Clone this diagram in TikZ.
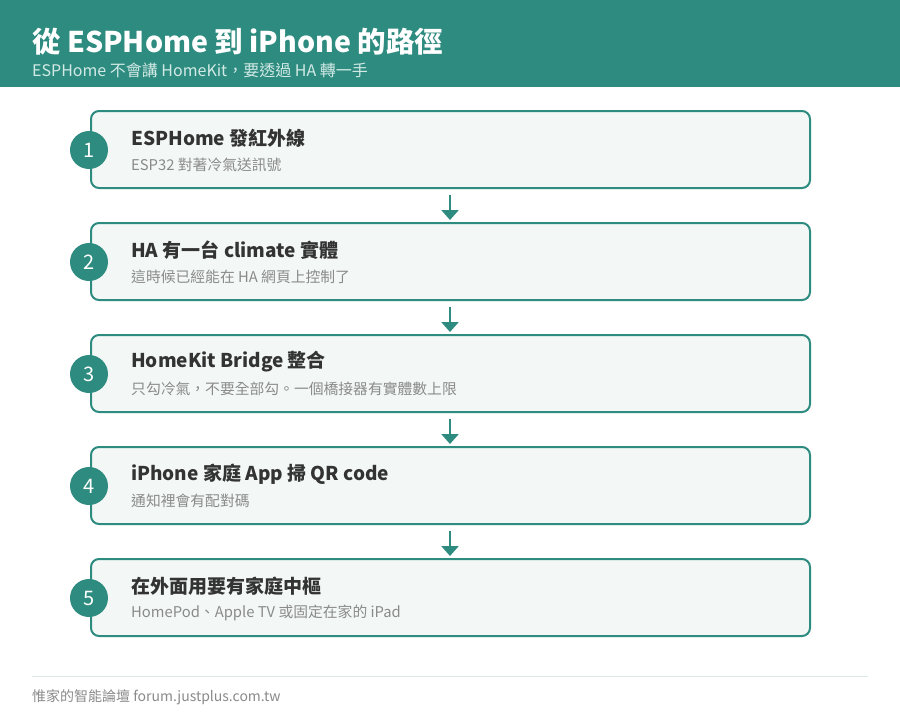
\documentclass[tikz,border=0pt]{standalone}
\usepackage{fontspec}
\setmainfont{Noto Sans CJK TC}
\usetikzlibrary{arrows.meta}
\definecolor{teal1}{HTML}{2E8B7F}
\definecolor{boxfill}{HTML}{F3F8F7}
\definecolor{hsub}{HTML}{D2EAE6}
\definecolor{dark}{HTML}{333333}
\definecolor{grey1}{HTML}{8A8A8A}
\definecolor{rule}{HTML}{DCE9E7}
\tikzset{
  stepbox/.style={draw=teal1, line width=2pt, fill=boxfill, rounded corners=8pt},
  numcirc/.style={circle, fill=teal1, minimum size=38pt, inner sep=0pt, text=white, font=\fontsize{20}{20}\selectfont},
  steptitle/.style={anchor=west, inner sep=0pt, text=dark, font=\bfseries\fontsize{19}{21}\selectfont},
  stepsub/.style={anchor=west, inner sep=0pt, text=grey1, font=\fontsize{14.8}{16}\selectfont},
  flow/.style={draw=teal1, line width=2.5pt, -{Triangle[width=17pt,length=10pt]}}
}
\begin{document}
\begin{tikzpicture}[x=1pt,y=-1pt]
\useasboundingbox (0,0) rectangle (900,720);
\fill[white] (0,0) rectangle (900,720);
\fill[teal1] (0,0) rectangle (900,87);
\node[anchor=west, inner sep=0pt, text=white, font=\bfseries\fontsize{28.5}{30}\selectfont] (title) at (32,42) {從 ESPHome 到 iPhone 的路徑};
\node[anchor=west, inner sep=0pt, text=hsub, font=\fontsize{16}{18}\selectfont] (subtitle) at (32,70) {ESPHome 不會講 HomeKit，要透過 HA 轉一手};

\foreach \i/\t/\s in {1/{ESPHome 發紅外線}/{ESP32 對著冷氣送訊號},
  2/{HA 有一台 climate 實體}/{這時候已經能在 HA 網頁上控制了},
  3/{HomeKit Bridge 整合}/{只勾冷氣，不要全部勾。一個橋接器有實體數上限},
  4/{iPhone 家庭 App 掃 QR code}/{通知裡會有配對碼},
  5/{在外面用要有家庭中樞}/{HomePod、Apple TV 或固定在家的 iPad}}{
  \pgfmathsetmacro{\top}{111+112*(\i-1)}
  \draw[stepbox] (91,\top) rectangle (810,\top+77) coordinate (c\i);
  \coordinate (top\i) at (450,\top);
  \coordinate (bot\i) at (450,\top+77);
  \node[numcirc] (n\i) at (89,\top+39) {\i};
  \node[steptitle] (t\i) at (131,\top+27) {\t};
  \node[stepsub] (s\i) at (131,\top+54) {\s};
}
\foreach \a/\b in {1/2,2/3,3/4,4/5}{
  \draw[flow] ([yshift=-7pt]bot\a) -- ([yshift=3pt]top\b);
}
\draw[rule, line width=1pt] (32,676) -- (868,676);
\node[anchor=west, inner sep=0pt, text=grey1, font=\fontsize{14}{16}\selectfont] (footer) at (32,697) {惟家的智能論壇 forum.justplus.com.tw};
\end{tikzpicture}
\end{document}
